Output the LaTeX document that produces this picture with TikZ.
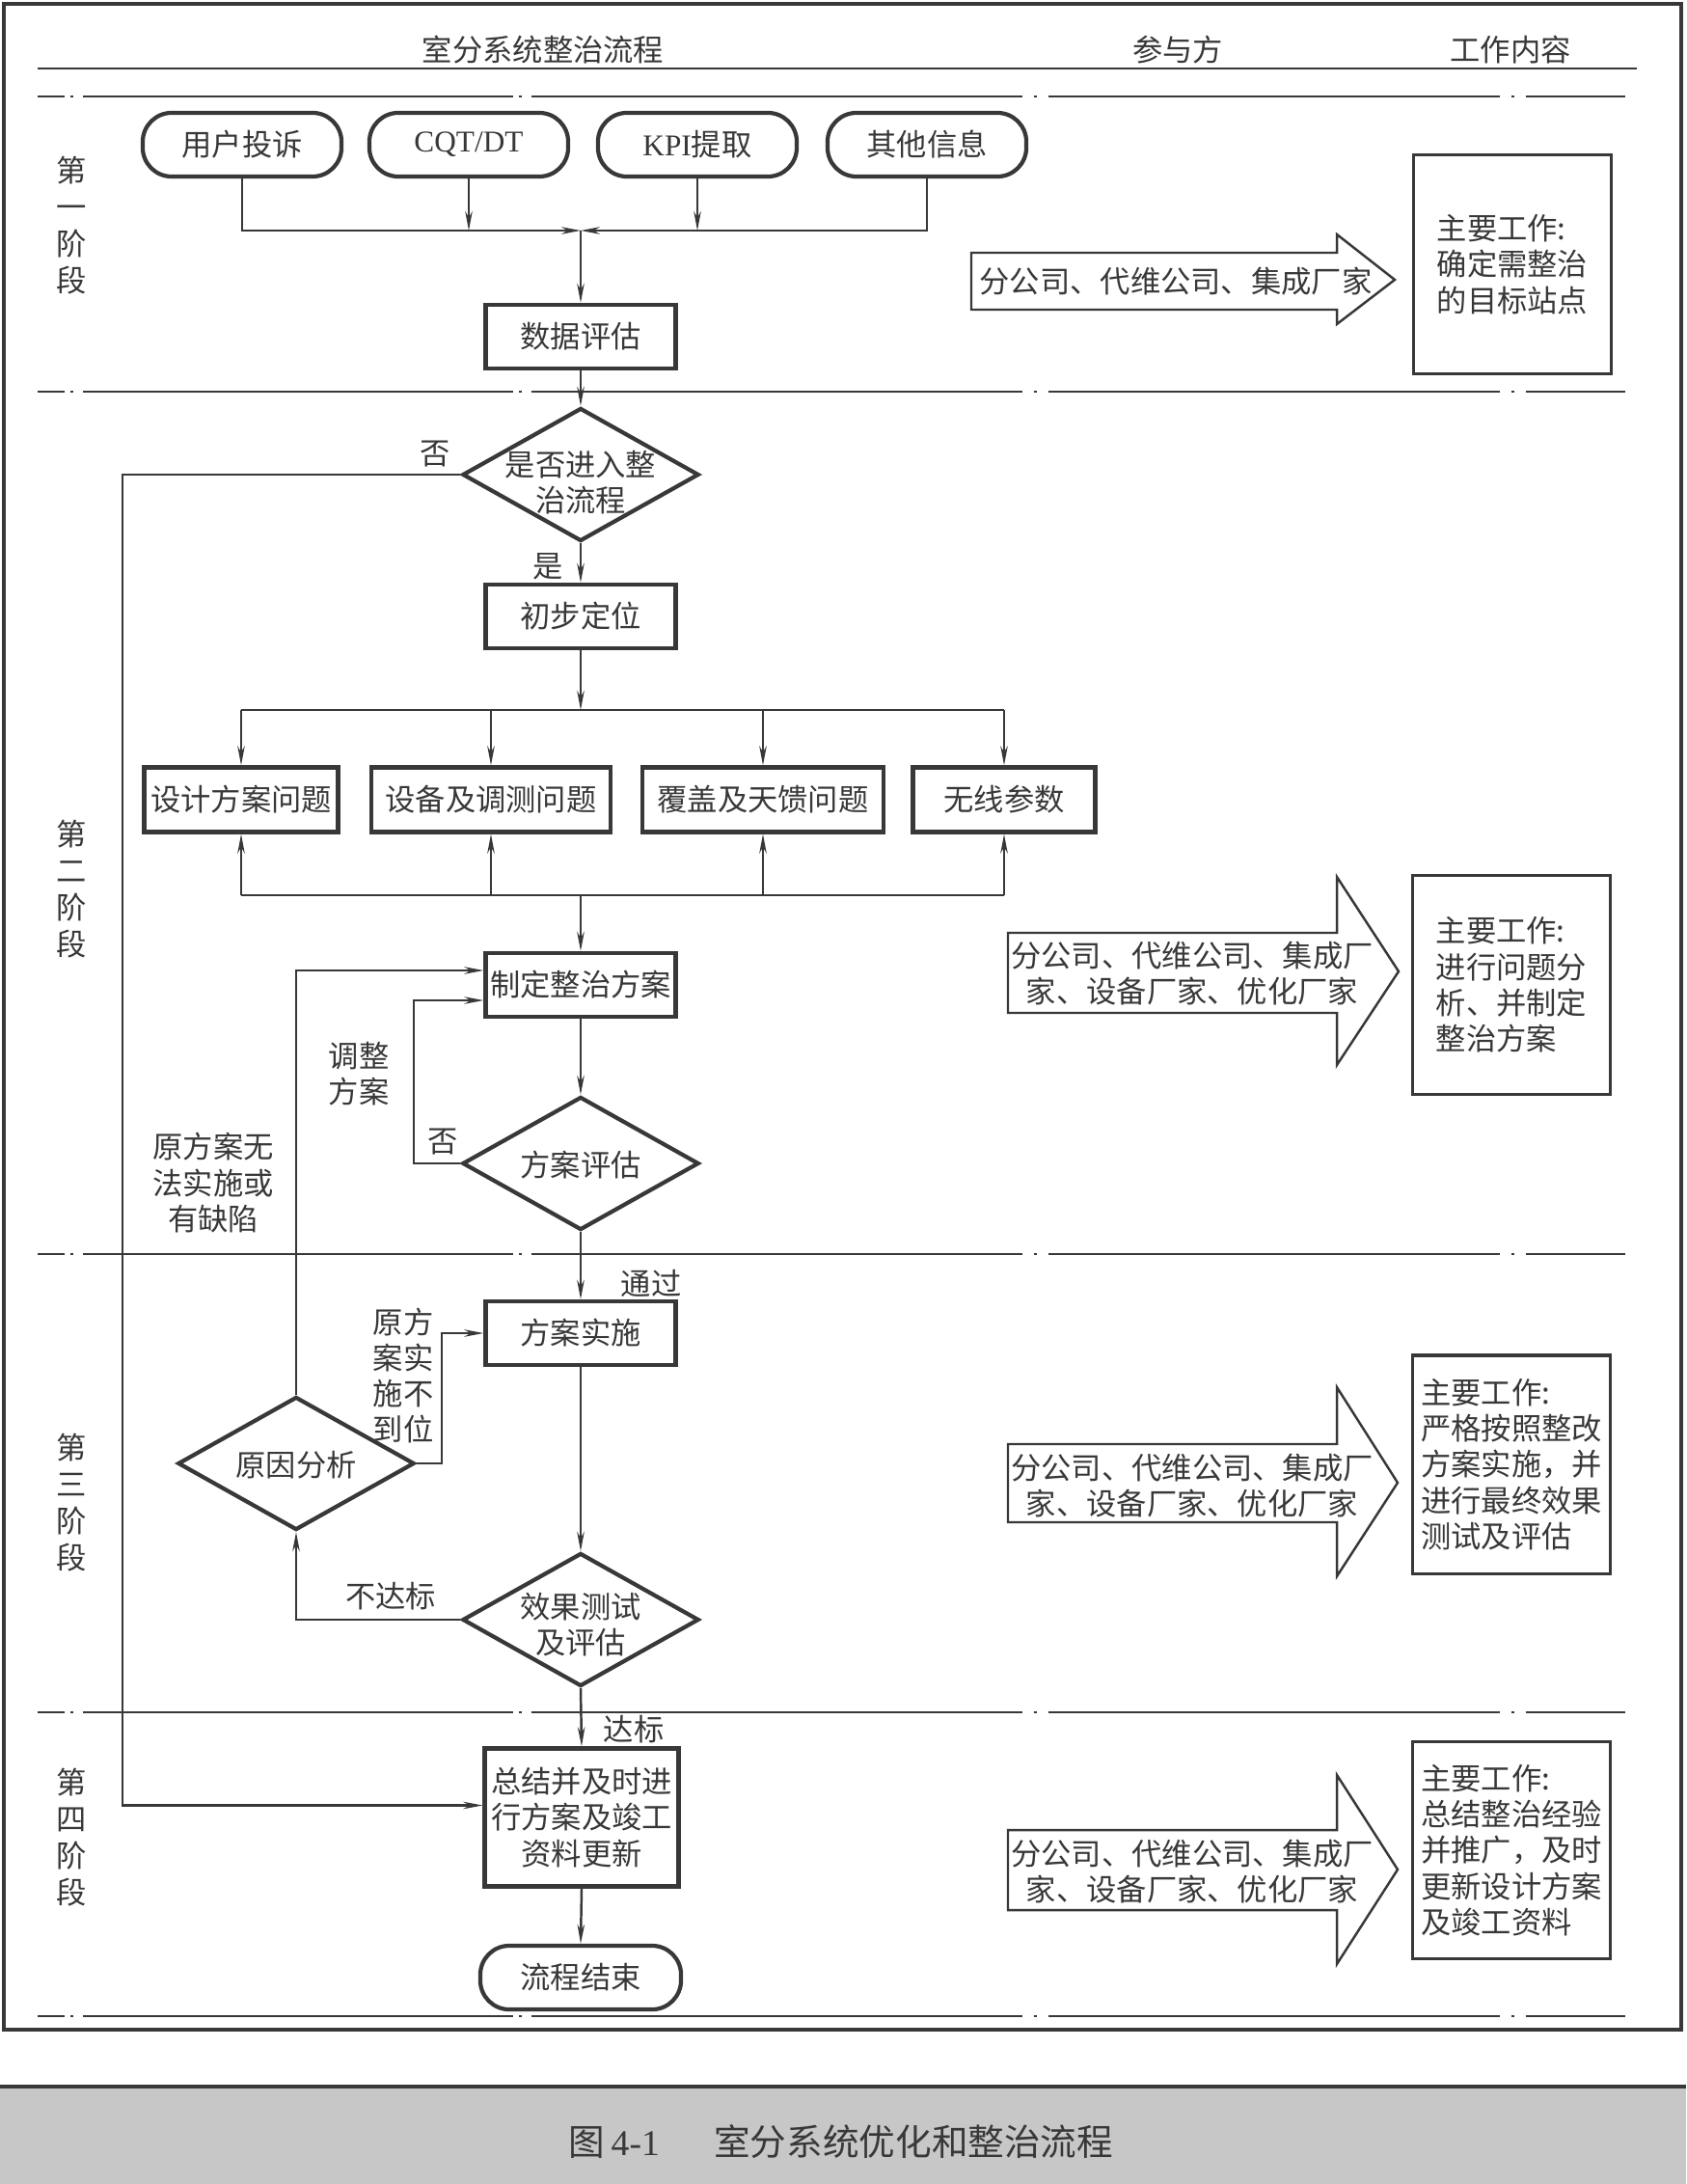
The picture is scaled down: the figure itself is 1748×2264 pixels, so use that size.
\documentclass[tikz,border=0pt]{standalone}
\usepackage{fontspec}
\setmainfont{Noto Sans CJK SC}
\newfontfamily\lat{Liberation Serif}
\usetikzlibrary{shapes.geometric,arrows.meta,calc}
\definecolor{ink}{gray}{0.22}
\definecolor{band}{gray}{0.78}
\begin{document}
\begin{tikzpicture}[x=0.01cm,y=-0.01cm,
 every node/.style={font=\fontsize{8.9pt}{10.6pt}\selectfont, text=ink, inner sep=0pt},
 conn/.style={draw=ink, line width=0.7pt, -{Stealth[length=0.2cm,width=0.075cm]}},
 ln/.style={draw=ink, line width=0.7pt},
 box/.style={draw=ink, line width=1.2pt, minimum width=1.97cm, minimum height=0.66cm, align=center},
 term/.style={draw=ink, line width=1.2pt, rounded corners=0.3cm, minimum width=2.06cm, minimum height=0.66cm},
 dia/.style={draw=ink, line width=1.2pt, diamond, minimum width=2.45cm, minimum height=1.38cm},
 work/.style={draw=ink, line width=0.9pt, minimum width=2.05cm, minimum height=2.27cm, align=left},
 sep/.style={draw=ink, line width=0.6pt, dash pattern=on 0.28cm off 0.06cm on 0.03cm off 0.10cm on 4.46cm off 0.06cm on 0.03cm off 0.10cm on 5.08cm off 0.12cm on 0.03cm off 0.12cm on 4.68cm off 0.12cm on 0.03cm off 0.12cm on 1.04cm off 1cm},
 bigarrow/.style={draw=ink, line width=0.7pt},
 stage/.style={align=center, font=\fontsize{8.9pt}{10.8pt}\selectfont},
 lbl/.style={align=center},
]
\useasboundingbox (0,0) rectangle (1748,2264);
\fill[white] (0,0) rectangle (1748,2264);

% frame and caption band
\draw[ink, line width=0.9pt] (4,4) rectangle (1743,2104);
\fill[band] (0,2163) rectangle (1748,2264);
\draw[ink, line width=1pt] (0,2163) -- (1748,2163);
\node[font=\fontsize{10.7pt}{12pt}\selectfont] (cap) at (872,2220) {图\,{\lat 4-1}\quad\enspace 室分系统优化和整治流程};

% header
\node (h1) at (563,52) {室分系统整治流程};
\node (h2) at (1221,52) {参与方};
\node (h3) at (1566,52) {工作内容};
\draw[ink, line width=0.7pt] (39,71) -- (1697,71);

% stage separators
\foreach \yy in {100,406,1300,1775,2090} {\draw[sep] (39,\yy) -- (1685,\yy);}

% stage labels
\node[stage] (s1) at (74,234) {第\\一\\阶\\段};
\node[stage] (s2) at (74,922) {第\\二\\阶\\段};
\node[stage] (s3) at (74,1558) {第\\三\\阶\\段};
\node[stage] (s4) at (74,1905) {第\\四\\阶\\段};

% ---------- stage 1 ----------
\node[term] (t1) at (251,150) {用户投诉};
\node[term] (t2) at (486,150) {{\lat CQT/DT}};
\node[term] (t3) at (723,150) {{\lat KPI}提取};
\node[term] (t4) at (961,150) {其他信息};
\coordinate (j1) at (602,239);
\draw[conn] (t1.south) |- (j1);
\draw[conn] (t4.south) |- (j1);
\draw[conn] (t2.south) -- (t2.south |- j1);
\draw[conn] (t3.south) -- (t3.south |- j1);
\node[box] (dp) at (602,349) {数据评估};
\draw[conn] (j1) -- (dp.north);

% ---------- stage 2 ----------
\node[dia] (d1) at (602,492) {};
\node[lbl] (d1t) at (602,500) {是否进入整\\治流程};
\draw[conn] (dp.south) -- (d1.north);
\node (no1) at (451,470) {否};
\node (yes1) at (568,587) {是};
\node[box] (b1) at (602,639) {初步定位};
\draw[conn] (d1.south) -- (b1.north);

\node[box, minimum width=2.01cm, minimum height=0.67cm] (p1) at (250,829) {设计方案问题};
\node[box, minimum width=2.48cm, minimum height=0.67cm] (p2) at (509,829) {设备及调测问题};
\node[box, minimum width=2.50cm, minimum height=0.67cm] (p3) at (791,829) {覆盖及天馈问题};
\node[box, minimum width=1.89cm, minimum height=0.67cm] (p4) at (1041,829) {无线参数};

\coordinate (j2) at (602,736);
\coordinate (j3) at (602,928);
\draw[conn] (b1.south) -- (j2);
\draw[ln] (p1.north |- j2) -- (p4.north |- j2);
\draw[ln] (p1.south |- j3) -- (p4.south |- j3);
\foreach \p in {p1,p2,p3,p4} {
  \draw[conn] (\p.north |- j2) -- (\p.north);
  \draw[conn] (\p.south |- j3) -- (\p.south);
}
\node[box] (b2) at (602,1021) {制定整治方案};
\draw[conn] (j3) -- (b2.north);

\node[dia] (d2) at (602,1206) {};
\node (d2t) at (602,1208) {方案评估};
\draw[conn] (b2.south) -- (d2.north);
\node (no2) at (459,1183) {否};
\coordinate (c2) at (429,1206);
\draw[conn] (d2.west) -- (c2) |- ([yshift=-0.16cm]b2.west);
\node[lbl] (adj) at (372,1113) {调整\\方案};
\node[lbl] (orig) at (221,1226) {原方案无\\法实施或\\有缺陷};

% ---------- stage 3 ----------
\node[box] (b3) at (602,1382) {方案实施};
\draw[conn] (d2.south) -- (b3.north);
\node (pass) at (675,1330) {通过};

\node[dia] (d3) at (307,1517) {};
\node (d3t) at (307,1519) {原因分析};
\draw[conn] (d3.north) |- ([yshift=0.15cm]b2.west);
\coordinate (c3) at (458,1517);
\draw[conn] (d3.east) -- (c3) |- (b3.west);
\node[lbl] (notdone) at (418,1426) {原方\\案实\\施不\\到位};

\node[dia] (d4) at (602,1679) {};
\node[lbl] (d4t) at (602,1684) {效果测试\\及评估};
\draw[conn] (b3.south) -- (d4.north);
\coordinate (c4) at (307,1679);
\draw[conn] (d4.west) -- (c4) -- (d3.south);
\node (fail) at (405,1655) {不达标};

% ---------- stage 4 ----------
\node[box, minimum width=2.01cm, minimum height=1.43cm] (b4) at (603,1884) {总结并及时进\\行方案及竣工\\资料更新};
\draw[conn] (d4.south) -- (b4.north);
\node (ok) at (657,1793) {达标};
\node[term, minimum width=2.08cm] (t5) at (602,2050) {流程结束};
\draw[conn] (b4.south) -- (t5.north);

\coordinate (c1) at (127,492);
\draw[conn] (d1.west) -- (c1) |- ([yshift=0.125cm]b4.west);

% ---------- right columns ----------
\draw[bigarrow] (1007,262) -- (1386,262) -- (1386,243) -- (1446,290) -- (1386,336) -- (1386,321) -- (1007,321) -- cycle;
\node (pa1) at (1219,292) {分公司、代维公司、集成厂家};
\node[work] (w1) at (1568,274) {主要工作:\\确定需整治\\的目标站点};

\draw[bigarrow] (1045,967) -- (1386,967) -- (1386,909) -- (1450,1007) -- (1386,1104) -- (1386,1050) -- (1045,1050) -- cycle;
\node[lbl] (pa2) at (1236,1009) {分公司、代维公司、集成厂\\家、设备厂家、优化厂家};
\node[work, minimum height=2.27cm] (w2) at (1567,1021) {主要工作:\\进行问题分\\析、并制定\\整治方案};

\draw[bigarrow] (1045,1497) -- (1386,1497) -- (1386,1438) -- (1449,1537) -- (1386,1634) -- (1386,1578) -- (1045,1578) -- cycle;
\node[lbl] (pa3) at (1236,1540) {分公司、代维公司、集成厂\\家、设备厂家、优化厂家};
\node[work, minimum height=2.26cm] (w3) at (1567,1518) {主要工作:\\严格按照整改\\方案实施，并\\进行最终效果\\测试及评估};

\draw[bigarrow] (1045,1897) -- (1386,1897) -- (1386,1840) -- (1449,1938) -- (1386,2036) -- (1386,1980) -- (1045,1980) -- cycle;
\node[lbl] (pa4) at (1236,1940) {分公司、代维公司、集成厂\\家、设备厂家、优化厂家};
\node[work, minimum height=2.25cm] (w4) at (1567,1918) {主要工作:\\总结整治经验\\并推广，及时\\更新设计方案\\及竣工资料};
\end{tikzpicture}
\end{document}
